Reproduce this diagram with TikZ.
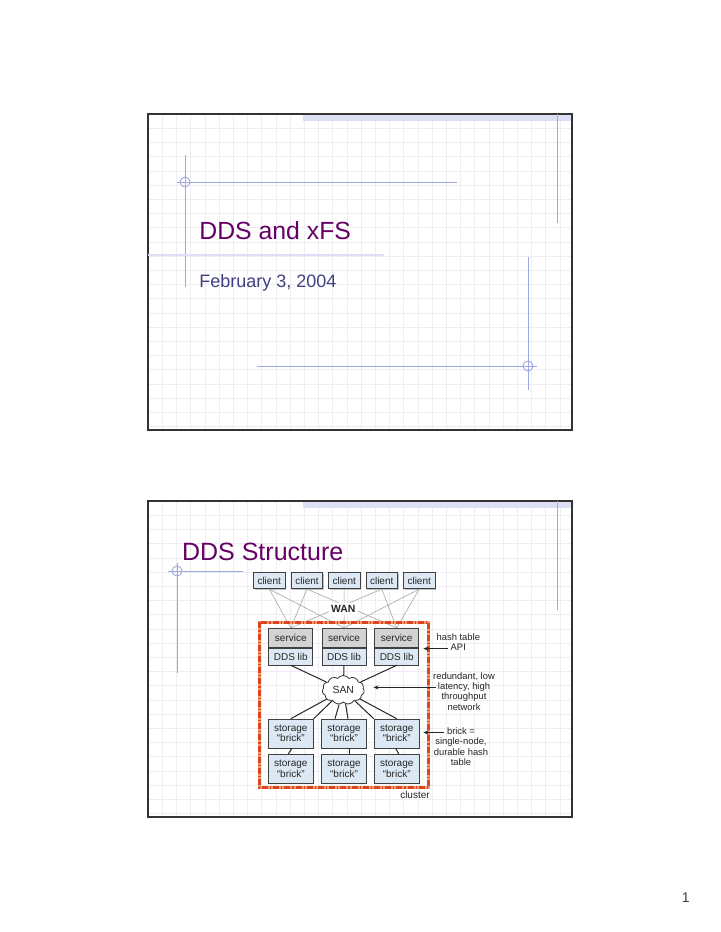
\documentclass[tikz,border=0pt]{standalone}
\usepackage{fontspec}
\setmainfont{Liberation Sans}
\usetikzlibrary{positioning, shapes.symbols, arrows.meta, shadows}

\definecolor{titlepurple}{RGB}{102,0,102}
\definecolor{datenavy}{RGB}{64,64,128}
\definecolor{accent}{RGB}{160,168,225}
\definecolor{barlav}{RGB}{221,224,245}
\definecolor{gridgray}{RGB}{238,238,242}
\definecolor{boxblue}{RGB}{220,233,245}
\definecolor{svcgray}{RGB}{211,211,211}
\definecolor{clusterred}{RGB}{220,70,30}
\definecolor{clusterorange}{RGB}{245,155,115}

\begin{document}
\begin{tikzpicture}[x=0.5pt, y=-0.5pt,
    gridline/.style={gridgray, line width=0.3pt},
    accentline/.style={accent, line width=0.45pt},
    dbox/.style={draw=black!75, line width=0.4pt, inner sep=0pt, align=center,
      font=\fontsize{5}{5.3}\selectfont, text=black!85},
    client/.style={dbox, fill=boxblue, minimum width=15.8pt, minimum height=8pt,
      drop shadow={shadow xshift=0.6pt, shadow yshift=-0.6pt, fill=black!40, opacity=0.6}},
    svc/.style={dbox, fill=svcgray, minimum width=22pt, minimum height=9.5pt},
    lib/.style={dbox, fill=boxblue, minimum width=22pt, minimum height=8.4pt},
    brick/.style={dbox, fill=boxblue, minimum width=22.5pt, minimum height=14.4pt},
    wire/.style={black!85, line width=0.5pt},
    wanline/.style={black!35, line width=0.3pt},
    pointer/.style={-{Stealth[length=2.5pt, width=2pt]}, black!85, line width=0.4pt},
    note/.style={inner sep=0pt, font=\fontsize{4.7}{5}\selectfont, text=black!85,
      text height=3.4pt, text depth=1.4pt},
  ]
  \useasboundingbox (0,0) rectangle (720,932);
  \fill[white] (0,0) rectangle (720,932);

  % Slide 1: grid, bar and frame
  \foreach \k in {1,...,29} \draw[gridline] (148+14.2*\k,114) -- (148+14.2*\k,430);
  \foreach \k in {1,...,22} \draw[gridline] (148,114+14.2*\k) -- (572,114+14.2*\k);
  \fill[barlav] (303,114) rectangle (572,120.5);
  \draw[black!80, line width=0.8pt] (148,114) rectangle (572,430);

  % Slide 1: accent lines
  \draw[accentline] (557,114) -- (557,223);
  \draw[accentline] (185,155) -- (185,287);
  \draw[accentline] (177,182) -- (457,182);
  \draw[accentline] (185,182) circle[radius=5];
  \draw[barlav, line width=1pt] (148,255) -- (384,255);
  \draw[accentline] (528,257) -- (528,390);
  \draw[accentline] (257,366) -- (537,366);
  \draw[accentline] (528,366) circle[radius=5];

  % Slide 1: title
  \node[anchor=base west, inner sep=0pt, text=titlepurple, font=\fontsize{12.4}{14}\selectfont]
    (title1) at (199,239) {DDS and xFS};
  \node[anchor=base west, inner sep=0pt, text=datenavy, font=\fontsize{9}{11}\selectfont]
    (date) at (199,287.5) {February 3, 2004};

  % Slide 2: grid, bar and frame
  \foreach \k in {1,...,29} \draw[gridline] (148+14.2*\k,501) -- (148+14.2*\k,817);
  \foreach \k in {1,...,22} \draw[gridline] (148,501+14.2*\k) -- (572,501+14.2*\k);
  \fill[barlav] (303,501) rectangle (572,507.5);
  \draw[black!80, line width=0.8pt] (148,501) rectangle (572,817);

  % Slide 2: accent lines
  \draw[accentline] (557,501) -- (557,610);
  \draw[accentline] (177,563) -- (177,673);
  \draw[accentline] (168,571) -- (243,571);
  \draw[accentline] (177,571) circle[radius=5];

  \node[anchor=base west, inner sep=0pt, text=titlepurple, font=\fontsize{12.5}{14}\selectfont]
    (title2) at (181.7,560) {DDS Structure};

  % Clients
  \foreach \i/\x in {1/269.2,2/307,3/344.2,4/381.7,5/419.2}
    \node[client] (c\i) at (\x,580.7) {client};

  % Services and storage bricks
  \foreach \i/\x in {1/290.8,2/344,3/396.7}{
    \node[svc] (s\i) at (\x,637.8) {service};
    \node[lib, below=0pt of s\i] (l\i) {DDS lib};
    \node[brick] (t\i) at (\x,733.5) {storage\\``brick''};
    \node[brick, below=2.8pt of t\i] (b\i) {storage\\``brick''};
  }

  % Wide area links
  \foreach \a/\b in {1/1,1/2,2/1,2/3,3/2,4/1,4/3,5/2,5/3}
    \draw[wanline] (c\a.south) -- (s\b.north);
  \node[fill=white, inner sep=1.2pt, font=\bfseries\fontsize{5.2}{5}\selectfont, text=black!85]
    (wan) at (343.3,609.3) {WAN};

  % Cluster border
  \draw[clusterorange, line width=1.4pt] (259.3,622.3) rectangle (428.3,787.7);
  \draw[clusterred, line width=1.4pt, dash pattern=on 3pt off 1pt on 0.6pt off 1pt]
    (259.3,622.3) rectangle (428.3,787.7);

  % SAN
  \node[cloud, cloud puffs=11, cloud puff arc=110, aspect=1.5, draw=black!80, fill=white,
    inner sep=0pt, minimum width=21pt, minimum height=14.5pt, font=\fontsize{5.2}{5}\selectfont,
    text=black!85] (san) at (343.3,690) {SAN};
  \foreach \i in {1,2,3} \draw[wire] (l\i.south) -- (san);
  \draw[wire] (san) -- (t1.north);
  \draw[wire] (san) -- (t1.north east);
  \draw[wire] (san) -- ([xshift=-4.5pt]t2.north);
  \draw[wire] (san) -- ([xshift=2pt]t2.north);
  \draw[wire] (san) -- (t3.north west);
  \draw[wire] (san) -- (t3.north);
  \draw[wire] ([xshift=0.5pt]t1.south) -- ([xshift=-1.2pt]b1.north);
  \draw[wire] ([xshift=2.5pt]t2.south) -- ([xshift=2.5pt]b2.north);
  \draw[wire] ([xshift=-0.5pt]t3.south) -- ([xshift=1pt]b3.north);

  % Notes
  \node[note] (hash1) at (458.3,638.3) {hash table};
  \node[note, below=0pt of hash1] (hash2) {API};
  \coordinate (hashTip) at (423.3,648.3);
  \draw[pointer] ([xshift=-1pt]hash2.west) -- (hash2.west -| hashTip);

  \node[note] (net1) at (464,677) {redundant, low};
  \node[note, below=0pt of net1] (net2) {latency, high};
  \node[note, below=0pt of net2] (net3) {throughput};
  \node[note, below=0pt of net3] (net4) {network};
  \coordinate (sanTip) at ([xshift=4.5pt]san.east);
  \draw[pointer] ([xshift=-1pt]net2.west) -- (net2.west -| sanTip);

  \node[note] (bn1) at (461,732.5) {brick =};
  \node[note, below=0pt of bn1] (bn2) {single-node,};
  \node[note, below=0pt of bn2] (bn3) {durable hash};
  \node[note, below=0pt of bn3] (bn4) {table};
  \coordinate (brickTip) at (423.3,735);
  \draw[pointer] ([xshift=-1.5pt]bn1.west) -- (bn1.west -| brickTip);

  \node[note, font=\fontsize{5}{5}\selectfont] (clusterlabel) at (415,796) {cluster};

  % Page number
  \node[anchor=base, inner sep=0pt, text=black!75, font=\fontsize{7}{7}\selectfont]
    (pagenum) at (685.7,902.7) {1};
\end{tikzpicture}
\end{document}
